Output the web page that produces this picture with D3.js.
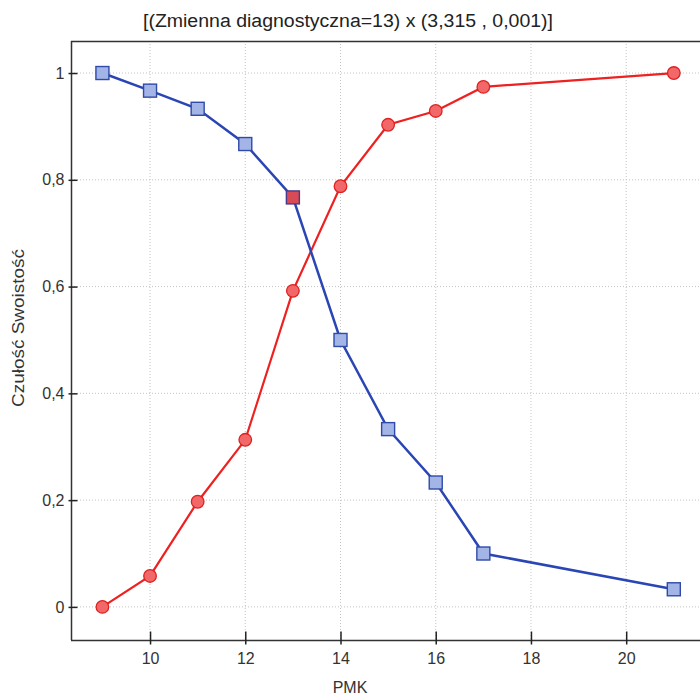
<!DOCTYPE html>
<html>
<head>
<meta charset="utf-8">
<script src="https://cdn.jsdelivr.net/npm/d3@7"></script>
<style>
  body { margin: 0; background: #fff; }
  svg { display: block; font-family: "Liberation Sans", Arial, sans-serif; }
</style>
</head>
<body>
<div id="chart"></div>
<script>
// data
const pmk = [9, 10, 11, 12, 13, 14, 15, 16, 17, 21];
const czulosc = [1, 0.967, 0.933, 0.867, 0.767, 0.5, 0.333, 0.233, 0.1, 0.033];
const swoistosc = [0, 0.058, 0.197, 0.313, 0.592, 0.788, 0.903, 0.929, 0.974, 1];
const xTicks = [10, 12, 14, 16, 18, 20];
const yTicks = [0, 0.2, 0.4, 0.6, 0.8, 1];
const cutoff = 13;
const title = "[(Zmienna diagnostyczna=13) x (3,315 , 0,001)]";

const width = 700, height = 697;
const plotLeft = 71, plotTop = 41, plotBottom = 640, plotRight = 700;

const svg = d3.select("#chart").append("svg").attr("width", width).attr("height", height);

const x = d3.scaleLinear().domain([8.34, 21.55]).range([plotLeft, plotRight]);
const y = d3.scaleLinear().domain([-0.062, 1.06]).range([plotBottom, plotTop]);

const fmt = d => String(d).replace(".", ",");

// grid
svg.append("g").selectAll("line").data(xTicks).join("line")
    .attr("x1", d => x(d)).attr("x2", d => x(d)).attr("y1", plotTop).attr("y2", plotBottom)
    .attr("stroke", "#c4c4c4").attr("stroke-dasharray", "1,2");
svg.append("g").selectAll("line").data(yTicks).join("line")
    .attr("x1", plotLeft).attr("x2", plotRight).attr("y1", d => y(d)).attr("y2", d => y(d))
    .attr("stroke", "#c4c4c4").attr("stroke-dasharray", "1,2");

// frame
svg.append("line").attr("x1", plotLeft).attr("x2", plotRight).attr("y1", plotTop + 0.5).attr("y2", plotTop + 0.5)
    .attr("stroke", "#333").attr("stroke-width", 1.5);
svg.append("line").attr("x1", plotLeft + 0.5).attr("x2", plotLeft + 0.5).attr("y1", plotTop).attr("y2", plotBottom)
    .attr("stroke", "#333").attr("stroke-width", 1.5);
svg.append("line").attr("x1", plotLeft).attr("x2", plotRight).attr("y1", plotBottom + 0.5).attr("y2", plotBottom + 0.5)
    .attr("stroke", "#333").attr("stroke-width", 1.5);

// axes
const xAxis = svg.append("g").attr("transform", `translate(0,${plotBottom + 0.5})`)
    .call(d3.axisBottom(x).tickValues(xTicks).tickSizeInner(-9).tickSizeOuter(0));
xAxis.select(".domain").remove();
xAxis.selectAll(".tick line").attr("y1", 4).attr("stroke", "#222").attr("stroke-width", 1.5);
xAxis.selectAll(".tick text").attr("y", 12).attr("font-size", 16).attr("fill", "#333")
    .attr("font-family", "Liberation Sans, Arial, sans-serif");

const yAxis = svg.append("g").attr("transform", `translate(${plotLeft + 0.5},0)`)
    .call(d3.axisLeft(y).tickValues(yTicks).tickFormat(fmt).tickSizeInner(-6).tickSizeOuter(0));
yAxis.select(".domain").remove();
yAxis.selectAll(".tick line").attr("x1", -3).attr("stroke", "#222").attr("stroke-width", 1.5);
yAxis.selectAll(".tick text").attr("x", -7).attr("font-size", 16).attr("fill", "#333")
    .attr("font-family", "Liberation Sans, Arial, sans-serif");

// titles
svg.append("text").attr("x", 348).attr("y", 27).attr("text-anchor", "middle")
    .attr("font-size", 18).attr("fill", "#222").text(title)
    .attr("textLength", 410).attr("lengthAdjust", "spacingAndGlyphs");
svg.append("text").attr("x", 350).attr("y", 693).attr("text-anchor", "middle")
    .attr("font-size", 16).attr("fill", "#333").text("PMK");
svg.append("text").attr("transform", "translate(24,328) rotate(-90)").attr("text-anchor", "middle")
    .attr("font-size", 17).attr("fill", "#333").text("Czułość Swoistość")
    .attr("textLength", 158).attr("lengthAdjust", "spacingAndGlyphs");

const line = d3.line().x(d => x(d[0])).y(d => y(d[1]));

// red series (circles)
const red = d3.zip(pmk, swoistosc);
svg.append("path").datum(red).attr("d", line).attr("fill", "none")
    .attr("stroke", "#ee2020").attr("stroke-width", 2.2);
svg.append("g").selectAll("circle").data(red).join("circle")
    .attr("cx", d => x(d[0])).attr("cy", d => y(d[1])).attr("r", 6.3)
    .attr("fill", "#f26868").attr("stroke", "#dd2222").attr("stroke-width", 1.3);

// blue series (squares)
const blue = d3.zip(pmk, czulosc);
svg.append("path").datum(blue).attr("d", line).attr("fill", "none")
    .attr("stroke", "#2a46b4").attr("stroke-width", 2.5);
svg.append("g").selectAll("rect").data(blue).join("rect")
    .attr("x", d => x(d[0]) - 6.5).attr("y", d => y(d[1]) - 6.5).attr("width", 13).attr("height", 13)
    .attr("fill", d => d[0] === cutoff ? "#d84a55" : "#a3b5e6")
    .attr("stroke", d => d[0] === cutoff ? "#4a3a8c" : "#2f4aa8").attr("stroke-width", 1.4);
</script>
</body>
</html>
